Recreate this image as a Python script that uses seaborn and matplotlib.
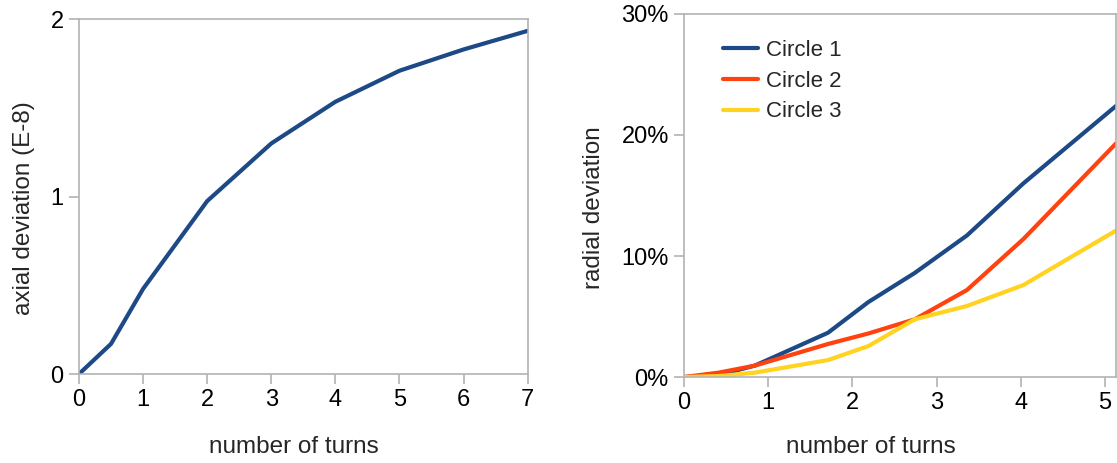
import matplotlib
matplotlib.use("Agg")
import matplotlib.pyplot as plt
from matplotlib.ticker import PercentFormatter
import pandas as pd
import seaborn as sns

# Axial deviation (units of 1e-8) versus number of turns
axial_turns = [0, 0.5, 1, 2, 3, 4, 5, 6, 7]
axial_dev = [0.0, 0.17, 0.48, 0.975, 1.30, 1.535, 1.71, 1.83, 1.935]

# Radial deviation (%) versus number of turns for three circles
radial_turns = [0, 0.41, 0.84, 1.71, 2.19, 2.74, 3.36, 4.03, 5.13]
circle1 = [0.0, 0.17, 0.94, 3.66, 6.2, 8.6, 11.7, 16.0, 22.4]
circle2 = [0.0, 0.36, 0.94, 2.73, 3.6, 4.77, 7.19, 11.4, 19.3]
circle3 = [0.0, 0.08, 0.36, 1.4, 2.56, 4.77, 5.87, 7.6, 12.1]
series_names = ["Circle 1", "Circle 2", "Circle 3"]
series_colors = ["#1d4a87", "#ff420e", "#ffd320"]

sns.set_style("white")
plt.rcParams["font.family"] = ["Liberation Sans", "DejaVu Sans"]

axis_grey = "#b3b3b3"
tick_size = 17
label_size = 17.5

fig = plt.figure(figsize=(11.17, 4.63), dpi=100)
ax1 = fig.add_axes([0.0707, 0.1922, 0.4017, 0.7661])
ax2 = fig.add_axes([0.6124, 0.1857, 0.3867, 0.7841])

axial_df = pd.DataFrame({"turns": axial_turns, "dev": axial_dev})
sns.lineplot(data=axial_df, x="turns", y="dev", ax=ax1,
             color=series_colors[0], linewidth=3)

radial_df = pd.DataFrame({
    "turns": radial_turns * 3,
    "dev": circle1 + circle2 + circle3,
    "series": [n for n in series_names for _ in radial_turns],
})
sns.lineplot(data=radial_df, x="turns", y="dev", hue="series",
             hue_order=series_names, palette=series_colors,
             ax=ax2, linewidth=3)

ax1.set_xlim(0, 7)
ax1.set_ylim(0, 2)
ax1.set_xticks(range(0, 8))
ax1.set_yticks([0, 1, 2])

ax2.set_xlim(0, 5.13)
ax2.set_ylim(0, 30)
ax2.set_xticks(range(0, 6))
ax2.set_yticks([0, 10, 20, 30])
ax2.yaxis.set_major_formatter(PercentFormatter(100, decimals=0))

for ax in (ax1, ax2):
    for side in ("left", "right", "top", "bottom"):
        ax.spines[side].set_visible(True)
        ax.spines[side].set_color(axis_grey)
        ax.spines[side].set_linewidth(1.2)
    ax.tick_params(axis="both", which="major", direction="out", length=7,
                   width=1.2, color=axis_grey, labelsize=tick_size,
                   labelcolor="black", pad=4)
    ax.tick_params(bottom=True, left=True, top=False, right=False)

ax1.set_xlabel("number of turns", fontsize=label_size)
ax1.set_ylabel("axial deviation (E-8)", fontsize=label_size)
ax1.xaxis.set_label_coords(0.479, -0.206)
ax1.xaxis.label.set_va("center")
ax1.yaxis.set_label_coords(-0.1226, 0.468)
ax1.yaxis.label.set_va("center")

ax2.set_xlabel("number of turns", fontsize=label_size)
ax2.set_ylabel("radial deviation", fontsize=label_size)
ax2.xaxis.set_label_coords(0.433, -0.193)
ax2.xaxis.label.set_va("center")
ax2.yaxis.set_label_coords(-0.208, 0.467)
ax2.yaxis.label.set_va("center")

leg = ax2.legend(loc="upper left", bbox_to_anchor=(0.09, 0.929),
                 frameon=False, fontsize=16, handlelength=1.6,
                 handletextpad=0.35, labelspacing=0.44, borderpad=0,
                 borderaxespad=0)
for line in leg.get_lines():
    line.set_linewidth(3)

fig.savefig("out.png", dpi=100)
